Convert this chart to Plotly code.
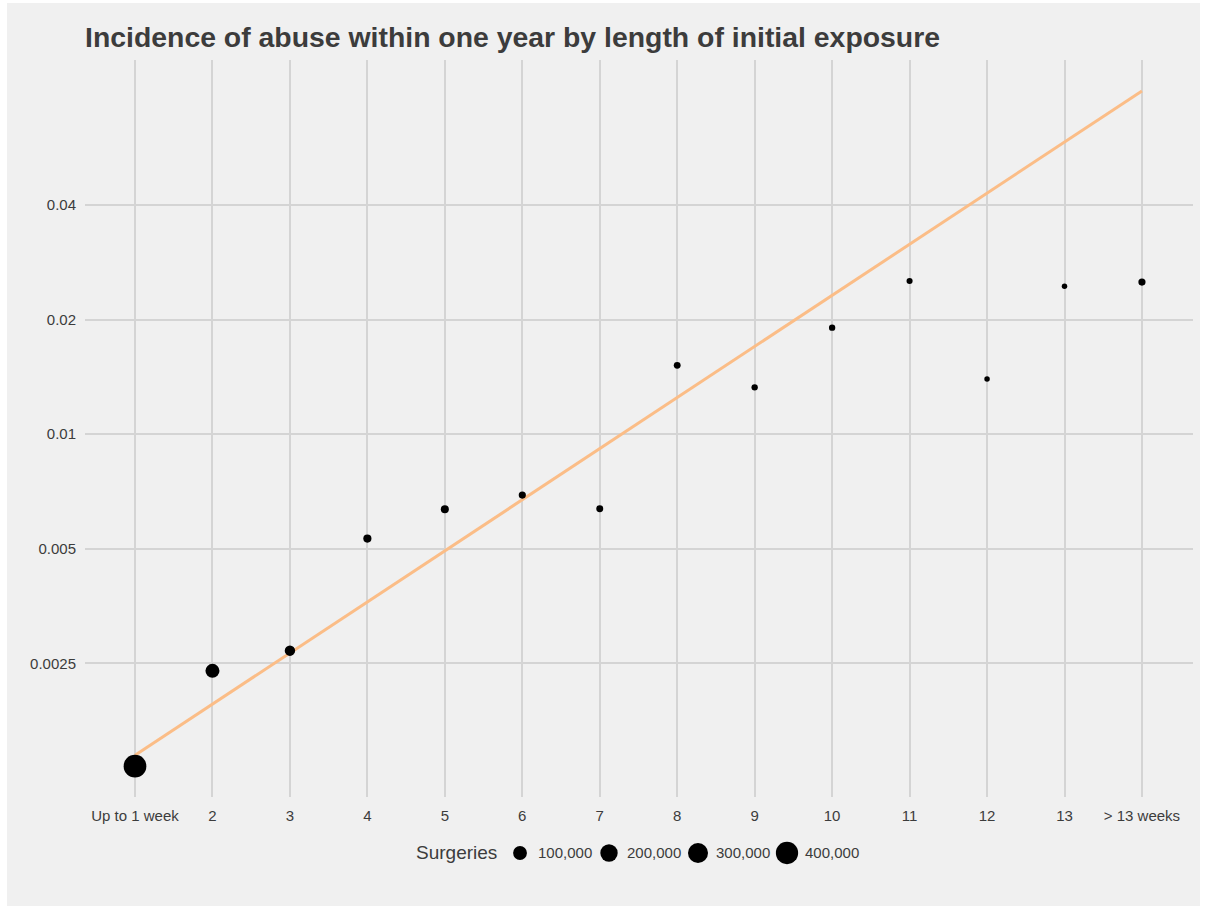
import numpy as np
import plotly.graph_objects as go

# Weeks of initial exposure (category axis)
weeks = ["Up to 1 week", "2", "3", "4", "5", "6", "7", "8", "9", "10",
         "11", "12", "13", "> 13 weeks"]

# Share of patients with abuse within one year
incidence = [0.001343, 0.00239, 0.00270, 0.00532, 0.00635, 0.00692, 0.00637,
             0.01517, 0.01328, 0.01905, 0.02526, 0.01396, 0.02446, 0.02510]

# Number of surgeries in each exposure group
surgeries = [420000, 105000, 36000, 12000, 11000, 6000, 5000,
             4500, 3000, 3000, 2500, 2000, 2000, 6000]

# Fitted log-linear trend evaluated at each category
trend = [0.001435, 0.001955, 0.002663, 0.003627, 0.004941, 0.006730, 0.009168,
         0.01249, 0.01701, 0.02316, 0.03155, 0.04297, 0.05853, 0.07973]

# Size key
legend_values = [100000, 200000, 300000, 400000]
legend_labels = ["100,000", "200,000", "300,000", "400,000"]

y_ticks = [0.0025, 0.005, 0.01, 0.02, 0.04]
y_tick_text = ["0.0025", "0.005", "0.01", "0.02", "0.04"]

BG = "#F0F0F0"
GRID = "#D4D4D4"
TEXT = "#3C3C3C"
FONT = "Liberation Sans, Arial, Helvetica, sans-serif"

v_min, v_max = min(surgeries), max(surgeries)


def marker_diameter(v):
    """Area-proportional point size, like an area palette over the data range."""
    r = np.clip((np.asarray(v, dtype=float) - v_min) / (v_max - v_min), 0, 1)
    return 5.5 + 17.2 * np.sqrt(r)


fig = go.Figure()

fig.add_trace(go.Scatter(
    x=weeks, y=trend, mode="lines",
    line=dict(color="#FBBD87", width=3),
    hoverinfo="skip", showlegend=False,
))

fig.add_trace(go.Scatter(
    x=weeks, y=incidence, mode="markers",
    marker=dict(color="black", opacity=1, size=marker_diameter(surgeries),
                line=dict(width=0)),
    customdata=surgeries,
    hovertemplate="%{x}<br>%{y:.4f}<br>Surgeries: %{customdata:,}<extra></extra>",
    showlegend=False,
))

# Size key drawn on its own hidden axes beneath the plot
key_pos = list(range(len(legend_values)))
fig.add_trace(go.Scatter(
    x=key_pos, y=[0] * len(key_pos), xaxis="x2", yaxis="y2", mode="markers",
    marker=dict(color="black", opacity=1, size=marker_diameter(legend_values),
                line=dict(width=0)),
    hoverinfo="skip", showlegend=False,
))

annotations = [
    dict(x=-0.235, y=0, xref="x2", yref="y2", text="Surgeries", showarrow=False,
         xanchor="right", yanchor="middle", font=dict(size=19, color=TEXT, family=FONT)),
]
for p, lab in zip(key_pos, legend_labels):
    annotations.append(dict(
        x=p + 0.2, y=0, xref="x2", yref="y2", text=lab, showarrow=False,
        xanchor="left", yanchor="middle", xshift=-2,
        font=dict(size=15, color=TEXT, family=FONT)))

fig.update_layout(
    width=1208, height=909,
    margin=dict(l=85, r=15, t=60, b=4),
    paper_bgcolor="white",
    plot_bgcolor=BG,
    font=dict(family=FONT, color=TEXT, size=15),
    title=dict(
        text="<b>Incidence of abuse within one year by length of initial exposure</b>",
        font=dict(size=28.4, color=TEXT, family=FONT),
        x=0, xref="paper", xanchor="left",
        y=(909 - 37) / 909, yref="container", yanchor="middle",
    ),
    xaxis=dict(
        type="category", categoryorder="array", categoryarray=weeks,
        range=[-0.6455, 13.659], showgrid=True, gridcolor=GRID, gridwidth=1.5,
        zeroline=False, showline=False, ticks="", anchor="y",
        tickfont=dict(size=15, color=TEXT), ticklabelstandoff=8,
    ),
    yaxis=dict(
        type="log", range=[-2.953, -1.017], domain=[0.1278, 1],
        tickvals=y_ticks, ticktext=y_tick_text,
        showgrid=True, gridcolor=GRID, gridwidth=1.5,
        zeroline=False, showline=False, ticks="",
        tickfont=dict(size=15, color=TEXT), ticklabelstandoff=8,
    ),
    xaxis2=dict(domain=[0, 1], range=[-4.888, 7.562], anchor="y2",
                visible=False, fixedrange=True),
    yaxis2=dict(domain=[0, 0.12308], range=[-1, 1], anchor="x2",
                visible=False, fixedrange=True),
    shapes=[dict(
        type="rect", xref="paper", yref="paper", layer="below",
        x0=(7 - 85) / 1108, x1=(1200 - 85) / 1108,
        y0=(905 - 906) / 845, y1=(905 - 3) / 845,
        fillcolor=BG, line=dict(width=0),
    )],
    annotations=annotations,
)

fig.write_html("out.html")
